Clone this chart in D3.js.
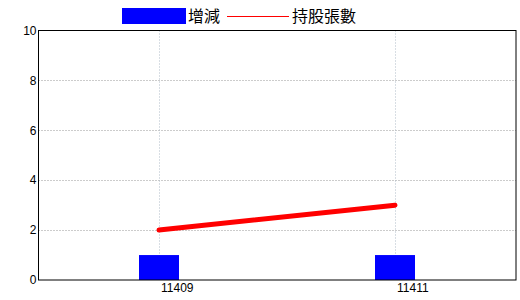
<head>
  <script src="https://d3js.org/d3.v7.min.js"></script>
</head>
<style>
  body { margin: 0; background: #fff; }
  text { font-family: "Liberation Sans", Arial, sans-serif; }
</style>
<body>
  <svg id="chart"></svg>
</body>
<script>
  var w = 520;
  var h = 300;

  // data
  var categories = ["11409", "11411"];
  var changeValues = [1, 1];        // 增減
  var sharesValues = [2, 3];        // 持股張數
  var yTicks = [0, 2, 4, 6, 8, 10];
  var seriesNames = ["增減", "持股張數"];

  var margin = {top: 30.5, right: 4, bottom: 20, left: 38.5};
  var plotL = margin.left, plotR = w - margin.right;
  var plotT = margin.top, plotB = h - margin.bottom;

  var svg = d3.select("#chart")
      .attr("width", w)
      .attr("height", h);

  var x = d3.scalePoint()
      .domain(categories)
      .range([41, 513])
      .padding(0.5);

  var y = d3.scaleLinear()
      .domain([0, 10])
      .range([plotB, plotT]);

  // grid lines
  var grid = svg.append("g");
  grid.selectAll("line.hgrid")
      .data(yTicks.filter(function(d){ return d > 0 && d < 10; }))
      .enter().append("line")
      .attr("x1", plotL).attr("x2", plotR)
      .attr("y1", function(d){ return Math.round(y(d)) + 0.5; })
      .attr("y2", function(d){ return Math.round(y(d)) + 0.5; })
      .style("stroke", "#999")
      .style("stroke-dasharray", "1,2");
  grid.selectAll("line.vgrid")
      .data(categories)
      .enter().append("line")
      .attr("x1", function(d){ return Math.round(x(d)) + 0.5; })
      .attr("x2", function(d){ return Math.round(x(d)) + 0.5; })
      .attr("y1", plotT).attr("y2", plotB)
      .style("stroke", "#b0bcc8")
      .style("stroke-dasharray", "1,2");

  // bars
  var barW = 40;
  svg.append("g").selectAll("rect")
      .data(changeValues)
      .enter().append("rect")
      .attr("x", function(d, i){ return Math.round(x(categories[i]) - barW / 2); })
      .attr("width", barW)
      .attr("y", function(d){ return y(d); })
      .attr("height", function(d){ return y(0) - y(d); })
      .style("fill", "#0000ff");

  // line
  var line = d3.line()
      .x(function(d, i){ return x(categories[i]); })
      .y(function(d){ return y(d); });
  svg.append("path")
      .datum(sharesValues)
      .attr("d", line)
      .style("fill", "none")
      .style("stroke", "#ff0000")
      .style("stroke-width", 5)
      .style("stroke-linecap", "round");

  // frame
  svg.append("rect")
      .attr("x", plotL).attr("y", plotT)
      .attr("width", plotR - plotL)
      .attr("height", plotB - plotT)
      .style("fill", "none")
      .style("stroke", "#000")
      .style("stroke-width", 1);

  // y axis labels
  svg.append("g").selectAll("text")
      .data(yTicks)
      .enter().append("text")
      .attr("x", plotL - 2)
      .attr("y", function(d){ return y(d); })
      .attr("dy", "0.35em")
      .attr("text-anchor", "end")
      .style("font-size", "12px")
      .text(function(d){ return d; });

  // x axis labels (start at the category position)
  svg.append("g").selectAll("text")
      .data(categories)
      .enter().append("text")
      .attr("x", function(d){ return x(d) + 2; })
      .attr("y", plotB + 12)
      .attr("text-anchor", "start")
      .style("font-size", "12px")
      .text(function(d){ return d; });

  // legend
  var legend = svg.append("g");
  legend.append("rect")
      .attr("x", 122).attr("y", 8)
      .attr("width", 64).attr("height", 16)
      .style("fill", "#0000ff");
  legend.append("text")
      .attr("x", 188).attr("y", 22)
      .style("font-size", "16px")
      .style("font-family", "'Noto Sans CJK TC', sans-serif")
      .text(seriesNames[0]);
  legend.append("line")
      .attr("x1", 227).attr("x2", 289)
      .attr("y1", 16.5).attr("y2", 16.5)
      .style("stroke", "#ff0000")
      .style("stroke-width", 1);
  legend.append("text")
      .attr("x", 292).attr("y", 22)
      .style("font-size", "16px")
      .style("font-family", "'Noto Sans CJK TC', sans-serif")
      .text(seriesNames[1]);
</script>
